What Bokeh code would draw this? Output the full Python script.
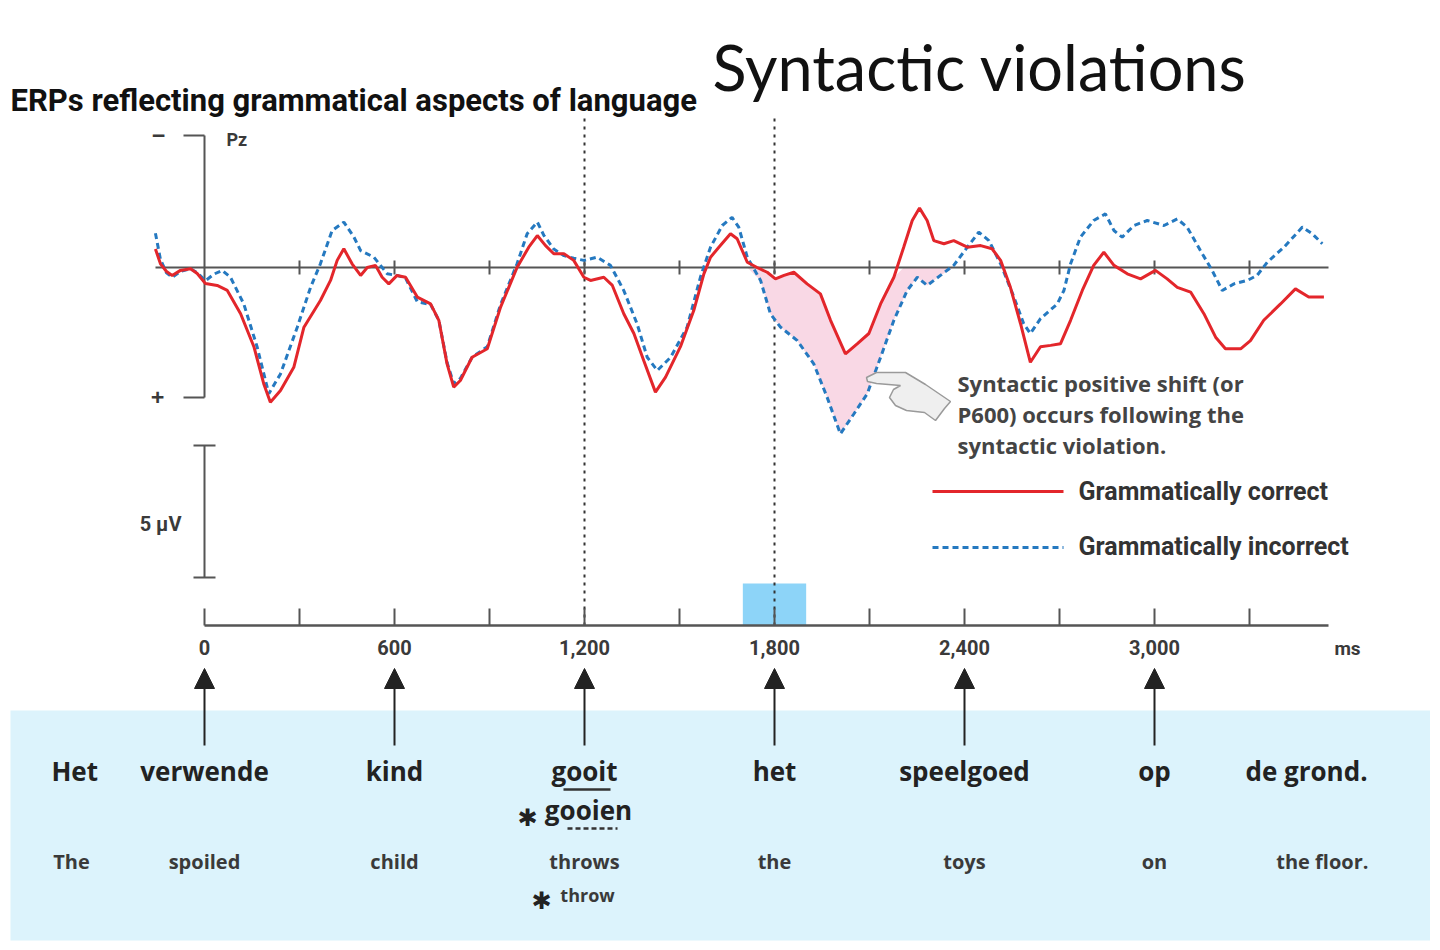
import numpy as np
from bokeh.plotting import figure
from bokeh.models import Range1d, ColumnDataSource, Arrow, NormalHead
from bokeh.core.properties import value
from bokeh.embed import file_html
from bokeh.resources import INLINE

# ERP at Pz, time in ms, amplitude in microvolts (positive is drawn downwards)
correct_ms = [-155, -139, -120, -102, -76, -44, -23, 3, 40, 72, 114, 156, 187, 208, 240, 282, 314, 366,
              398, 419, 440, 466, 493, 514, 540, 561, 582, 608, 635, 672, 714, 740, 766, 787, 808, 845,
              893, 935, 987, 1024, 1051, 1077, 1103, 1135, 1166, 1198, 1219, 1261, 1288, 1324, 1356,
              1387, 1424, 1456, 1503, 1545, 1577, 1598, 1629, 1661, 1682, 1714, 1745, 1777, 1803, 1830,
              1861, 1903, 1945, 1977, 2024, 2061, 2098, 2135, 2177, 2208, 2235, 2258, 2282, 2303, 2335,
              2366, 2409, 2451, 2487, 2514, 2545, 2577, 2608, 2640, 2672, 2703, 2735, 2772, 2808, 2840,
              2872, 2914, 2956, 3003, 3040, 3072, 3114, 3156, 3193, 3224, 3272, 3303, 3345, 3398, 3445,
              3487, 3535]
correct_uv = [-0.7, -0.14, 0.15, 0.3, 0.11, 0.05, 0.23, 0.61, 0.68, 0.87, 1.75, 3.0, 4.4, 5.1, 4.66, 3.78,
              2.26, 1.25, 0.49, -0.27, -0.71, -0.14, 0.3, 0.0, -0.08, 0.37, 0.62, 0.3, 0.37, 1.12, 1.38,
              2.0, 3.65, 4.53, 4.28, 3.4, 3.08, 1.5, 0.0, -0.77, -1.21, -0.83, -0.52, -0.52, -0.27, 0.37,
              0.49, 0.37, 0.68, 1.75, 2.5, 3.52, 4.72, 4.15, 3.0, 1.63, 0.24, -0.39, -0.83, -1.28, -1.09,
              -0.2, 0.0, 0.18, 0.43, 0.3, 0.18, 0.62, 1.0, 2.0, 3.27, 2.89, 2.5, 1.38, 0.37, -0.77, -1.78,
              -2.25, -1.78, -1.02, -0.9, -1.02, -0.77, -0.83, -0.71, -0.27, 0.75, 2.13, 3.59, 3.0, 2.95,
              2.89, 2.0, 0.87, -0.08, -0.58, -0.08, 0.24, 0.43, 0.11, 0.43, 0.75, 0.93, 1.75, 2.64, 3.08,
              3.08, 2.77, 2.0, 1.38, 0.81, 1.12, 1.12]

incorrect_ms = [-155, -139, -120, -102, -76, -44, -23, 3, 30, 56, 82, 124, 166, 203, 240, 293, 335, 366,
                403, 440, 472, 493, 535, 577, 608, 635, 672, 714, 740, 766, 787, 808, 845, 893, 935, 987,
                1019, 1051, 1072, 1103, 1135, 1166, 1198, 1240, 1282, 1324, 1366, 1398, 1430, 1472, 1524,
                1566, 1598, 1635, 1666, 1687, 1714, 1756, 1787, 1819, 1872, 1924, 1966, 2008, 2051, 2093,
                2135, 2177, 2219, 2251, 2282, 2324, 2366, 2409, 2445, 2477, 2514, 2556, 2587, 2608, 2640,
                2693, 2714, 2735, 2766, 2808, 2845, 2872, 2898, 2935, 2977, 3030, 3072, 3103, 3145, 3182,
                3214, 3251, 3293, 3324, 3356, 3409, 3467, 3498, 3530]
incorrect_uv = [-1.3, -0.3, 0.2, 0.37, 0.15, 0.05, 0.2, 0.5, 0.25, 0.11, 0.37, 1.38, 3.0, 4.78, 4.03, 2.26,
                0.75, -0.14, -1.4, -1.72, -1.15, -0.64, -0.39, 0.24, 0.3, 0.4, 1.3, 1.4, 2.0, 3.6, 4.4, 4.2,
                3.4, 3.0, 1.4, -0.14, -1.28, -1.72, -1.21, -0.7, -0.45, -0.35, -0.27, -0.39, -0.08, 0.87,
                2.13, 3.4, 3.9, 3.4, 2.26, 0.37, -0.77, -1.59, -1.9, -1.53, -0.39, 0.49, 1.75, 2.26, 2.77,
                3.65, 4.91, 6.3, 5.54, 4.78, 3.4, 2.0, 0.87, 0.37, 0.68, 0.3, -0.08, -0.77, -1.34, -1.02,
                -0.14, 1.12, 2.13, 2.5, 1.94, 1.38, 0.87, -0.14, -1.15, -1.78, -2.03, -1.4, -1.15, -1.59,
                -1.78, -1.59, -1.84, -1.53, -0.64, 0.11, 0.87, 0.62, 0.49, 0.3, -0.2, -0.77, -1.53, -1.28,
                -0.9]

word_onsets_ms = [0, 600, 1200, 1800, 2400, 3000]
tick_labels = ["0", "600", "1,200", "1,800", "2,400", "3,000"]
minor_ticks_ms = [0, 300, 600, 900, 1200, 1500, 1800, 2100, 2400, 2700, 3000, 3300]
baseline_ticks_ms = [300, 600, 900, 1200, 1500, 1800, 2100, 2400, 2700, 3000, 3300]
violation_ms = [1200, 1800]
stimulus_window_ms = [1700, 1900]
p600_window_ms = [1714, 2366]

dutch_words = ["Het", "verwende", "kind", "gooit", "het", "speelgoed", "op", "de grond."]
dutch_ms = [-410, 0, 600, 1200, 1800, 2400, 3000, 3480]
english_words = ["The", "spoiled", "child", "throws", "the", "toys", "on", "the floor."]
english_ms = [-420, 0, 600, 1200, 1800, 2400, 3000, 3530]

RED = "#E3262B"
BLUE = "#2579C0"
PINK = "#F9D8E5"
INK = "#3a3a3a"
COND = value("Roboto")
SANS = value("Open Sans")


# page pixel -> data helpers for the decorations around the plot
def px(X):
    return (X - 204) * 600 / 190


def py(Y):
    return (Y - 267) / 26.4


p = figure(width=1430, height=942, x_range=Range1d(px(0), px(1430)), y_range=Range1d(py(942), py(0)),
           x_axis_type=None, y_axis_type=None, toolbar_location=None, output_backend="svg",
           min_border=0)
p.outline_line_color = None

# sentence box
p.quad(left=px(10), right=px(1430), top=py(710), bottom=py(940), fill_color="#DCF3FC", line_color=None)

# stimulus window
p.quad(left=stimulus_window_ms[0], right=stimulus_window_ms[1], top=py(583), bottom=py(625),
       fill_color="#8DD4F8", line_color=None)

# violation onset lines
p.segment(x0=violation_ms, y0=py(118), x1=violation_ms, y1=py(625), line_color="#333333",
          line_width=2, line_dash="3 5")

# P600 shading between the curves
r_t, r_v = np.array(correct_ms), np.array(correct_uv)
b_t, b_v = np.array(incorrect_ms), np.array(incorrect_uv)
bm = (b_t >= p600_window_ms[0]) & (b_t <= p600_window_ms[1])
rm = (r_t >= p600_window_ms[0]) & (r_t <= p600_window_ms[1])
p.patch(np.concatenate([b_t[bm], r_t[rm][::-1]]),
        np.concatenate([np.maximum(b_v[bm], 0), np.maximum(r_v[rm], 0)[::-1]]),
        fill_color=PINK, line_color=None)

# baseline and its ticks
p.segment(x0=px(155), y0=0, x1=px(1328), y1=0, line_color="#555555", line_width=2)
p.segment(x0=baseline_ticks_ms, y0=py(260), x1=baseline_ticks_ms, y1=py(274), line_color="#555555",
          line_width=2)

# amplitude axis
p.segment(x0=0, y0=py(135), x1=0, y1=py(397), line_color="#555555", line_width=2)
p.segment(x0=[px(183), px(183)], y0=[py(135), py(397)], x1=[0, 0], y1=[py(135), py(397)],
          line_color="#555555", line_width=2)
p.text(x=[px(158), px(157)], y=[py(135), py(397)], text=["\u2212", "+"], text_align="center",
       text_baseline="middle", text_font=SANS, text_font_style="bold", text_font_size="24px", text_color=INK)
p.text(x=[px(226)], y=[py(139)], text=["Pz"], text_align="left", text_baseline="middle", text_font=COND,
       text_font_style="bold", text_font_size="18px", text_color=INK)

# 5 uV scale bar
p.segment(x0=0, y0=py(445), x1=0, y1=py(577), line_color="#555555", line_width=2)
p.segment(x0=[px(193), px(193)], y0=[py(445), py(577)], x1=[px(215), px(215)], y1=[py(445), py(577)],
          line_color="#555555", line_width=2)
p.text(x=[px(181)], y=[py(523)], text=["5 \u00b5V"], text_align="right", text_baseline="middle",
       text_font=COND, text_font_style="bold", text_font_size="20px", text_color=INK)

# waveforms
p.line(incorrect_ms, incorrect_uv, line_color=BLUE, line_width=3, line_dash="6 4")
p.line(correct_ms, correct_uv, line_color=RED, line_width=3)

# time axis
p.segment(x0=0, y0=py(625), x1=px(1328), y1=py(625), line_color="#555555", line_width=2.5)
p.segment(x0=minor_ticks_ms, y0=py(608), x1=minor_ticks_ms, y1=py(625), line_color="#555555",
          line_width=2)
p.text(x=word_onsets_ms, y=[py(647)] * len(word_onsets_ms), text=tick_labels, text_align="center",
       text_baseline="middle", text_font=COND, text_font_style="bold", text_font_size="20px",
       text_color=INK)
p.text(x=[px(1347)], y=[py(648)], text=["ms"], text_align="center", text_baseline="middle",
       text_font=COND, text_font_style="bold", text_font_size="19px", text_color=INK)

# word onset arrows
arrows = ColumnDataSource(dict(x=word_onsets_ms, y0=[py(745)] * len(word_onsets_ms),
                               y1=[py(668)] * len(word_onsets_ms)))
p.add_layout(Arrow(x_start="x", y_start="y0", x_end="x", y_end="y1", source=arrows, line_width=2,
                   line_color="#222222",
                   end=NormalHead(size=20, fill_color="#222222", line_color="#222222")))

# sentence
p.text(x=dutch_ms, y=[py(770)] * len(dutch_ms), text=dutch_words, text_align="center",
       text_baseline="middle", text_font=SANS, text_font_style="bold", text_font_size="26px",
       text_color="#222222")
p.text(x=english_ms, y=[py(861)] * len(english_ms), text=english_words, text_align="center",
       text_baseline="middle", text_font=SANS, text_font_style="bold", text_font_size="20px",
       text_color="#3a3a3a")
p.segment(x0=px(563), y0=py(789), x1=px(610), y1=py(789), line_color="#333333", line_width=2.5)
p.text(x=[px(588)], y=[py(809)], text=["gooien"], text_align="center", text_baseline="middle",
       text_font=SANS, text_font_style="bold", text_font_size="26px", text_color="#222222")
p.segment(x0=px(567), y0=py(828), x1=px(617), y1=py(828), line_color="#333333", line_width=2.5,
          line_dash="5 3")
p.text(x=[px(587)], y=[py(894)], text=["throw"], text_align="center", text_baseline="middle",
       text_font=SANS, text_font_style="bold", text_font_size="18px", text_color="#3a3a3a")
p.text(x=[px(527), px(541)], y=[py(817), py(900)], text=["\u2731", "\u2731"], text_align="center",
       text_baseline="middle", text_font=value("DejaVu Sans"), text_font_size="24px", text_color="#222222")

# pointing hand
hand = [(866, 377), (876, 372), (905, 372), (925, 384), (950, 401), (944, 408), (935, 420), (924, 412),
        (906, 410), (895, 405), (889, 397), (893, 389), (900, 385), (876, 383), (867, 381)]
p.patch([px(a) for a, b in hand], [py(b) for a, b in hand], fill_color="#EFEFEF", line_color="#9a9a9a",
        line_width=1.5)

# annotation
p.text(x=[px(957)] * 3, y=[py(382), py(413), py(444)],
       text=["Syntactic positive shift (or", "P600) occurs following the", "syntactic violation."],
       text_align="left", text_baseline="middle", text_font=SANS, text_font_style="bold",
       text_font_size="22px", text_color="#444444")

# legend
p.segment(x0=px(932), y0=py(491), x1=px(1063), y1=py(491), line_color=RED, line_width=3)
p.segment(x0=px(932), y0=py(547), x1=px(1063), y1=py(547), line_color=BLUE, line_width=3, line_dash="6 4")
p.text(x=[px(1078), px(1078)], y=[py(491), py(546)], text=["Grammatically correct", "Grammatically incorrect"],
       text_align="left", text_baseline="middle", text_font=COND, text_font_style="bold",
       text_font_size="25px", text_color="#333333")

# titles
p.text(x=[px(10)], y=[py(100)], text=["ERPs reflecting grammatical aspects of language"], text_align="left",
       text_baseline="middle", text_font=COND, text_font_style="bold", text_font_size="31px",
       text_color="#111111")
p.text(x=[px(712)], y=[py(66)], text=["Syntactic violations"], text_align="left", text_baseline="middle",
       text_font=value("Lato"), text_font_size="63px", text_color="#111111")

open("out.html", "w").write(file_html(p, INLINE))
